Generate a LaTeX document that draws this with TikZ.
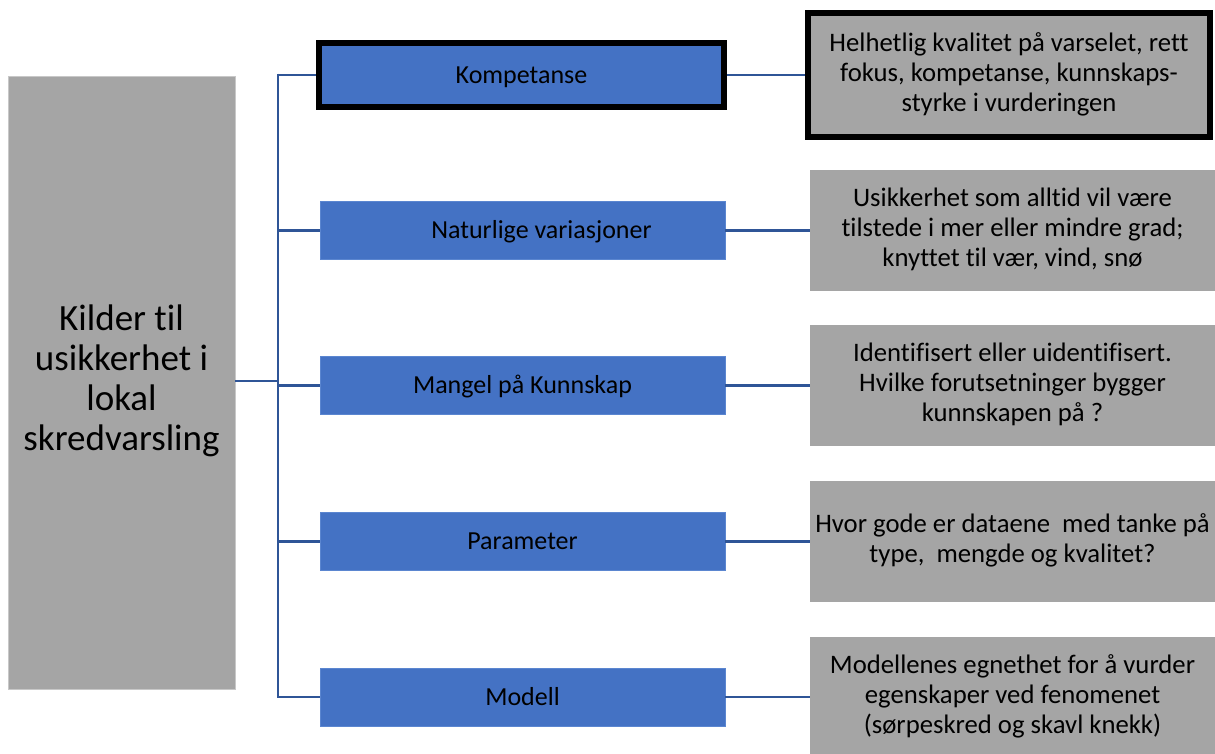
\documentclass[tikz,border=0pt]{standalone}
\usepackage{fontspec}
\setmainfont{Carlito}[RawFeature=-liga]
% centred block of lines, lowered a little inside its box
\newcommand{\lowblock}[2]{\raisebox{-#1}{\begin{tabular}{@{}c@{}}#2\end{tabular}}}
\begin{document}
\begin{tikzpicture}[x=1pt,y=-1pt,
  blueb/.style={draw=blueedge,line width=0.8pt,fill=boxblue,minimum width=405pt,minimum height=58pt,
    inner sep=0pt,text height=22pt,text depth=5.5pt,font=\fontsize{26}{31}\selectfont,text=black},
  grayb/.style={fill=boxgray,minimum width=405pt,minimum height=121pt,inner sep=0pt,
    font=\fontsize{26.7}{30}\selectfont,text=black},
  heavy/.style={draw=black,line width=6pt},
  link/.style={draw=linkblue,line width=2.6pt}]
\definecolor{boxblue}{HTML}{4472C4}
\definecolor{blueedge}{HTML}{5B86D0}
\definecolor{boxgray}{HTML}{A5A5A5}
\definecolor{linkblue}{HTML}{2F5597}
\definecolor{grayedge}{HTML}{C8C8C8}
\useasboundingbox (0,0) rectangle (1215,753);

% source box
\node[fill=boxgray,draw=grayedge,line width=0.8pt,minimum width=227pt,minimum height=613pt,inner sep=0pt,
  font=\fontsize{37}{40}\selectfont] (src) at (121.5,382.5)
  {\lowblock{2pt}{Kilder til\\usikkerhet i\\lokal\\skredvarsling}};

% categories
\node[blueb,heavy,minimum width=405pt,minimum height=64pt] (k1) at (521.5,75) {Kompetanse};
\node[blueb] (k2) at (522.5,230.5) {\hspace*{38pt}Naturlige variasjoner};
\node[blueb] (k3) at (522.5,385.5) {Mangel på Kunnskap};
\node[blueb] (k4) at (522.5,541.5) {Parameter};
\node[blueb] (k5) at (522.5,697) {Modell};

% descriptions
\node[grayb,heavy,minimum width=402pt,minimum height=124pt] (d1) at (1009,75)
  {\lowblock{3.5pt}{Helhetlig kvalitet på varselet, rett\\fokus, kompetanse, kunnskaps-\\styrke i vurderingen}};
\node[grayb] (d2) at (1012.5,230.5)
  {\lowblock{3.5pt}{Usikkerhet som alltid vil være\\tilstede i mer eller mindre grad;\\knyttet til vær, vind, snø}};
\node[grayb] (d3) at (1012.5,385.5)
  {\lowblock{3.5pt}{Identifisert eller uidentifisert.\\Hvilke forutsetninger bygger\\kunnskapen på ?}};
\node[grayb] (d4) at (1012.5,541.5)
  {\lowblock{3.5pt}{Hvor gode er dataene\ \ med tanke på\\type,\ \ mengde og kvalitet?}};
\node[grayb] (d5) at (1012.5,697)
  {\lowblock{3.5pt}{Modellenes egnethet for å vurder\\egenskaper ved fenomenet\\(sørpeskred og skavl knekk)}};

% tree connectors
\coordinate (trunk) at (278,381);
\coordinate (ktop) at (278,75);
\coordinate (kbot) at (278,697);
\draw[link] (src.east |- trunk) -- (trunk);
\draw[link] ([yshift=1.3pt]ktop) -- ([yshift=-1.3pt]kbot);
\draw[link] (ktop) -- (k1.west);
\draw[link] (278,230.5) -- (k2.west);
\draw[link] (278,385.5) -- (k3.west);
\draw[link] (278,541.5) -- (k4.west);
\draw[link] (kbot) -- (k5.west);
\foreach \i in {1,...,5} \draw[link] (k\i.east) -- (d\i.west);
\end{tikzpicture}
\end{document}
